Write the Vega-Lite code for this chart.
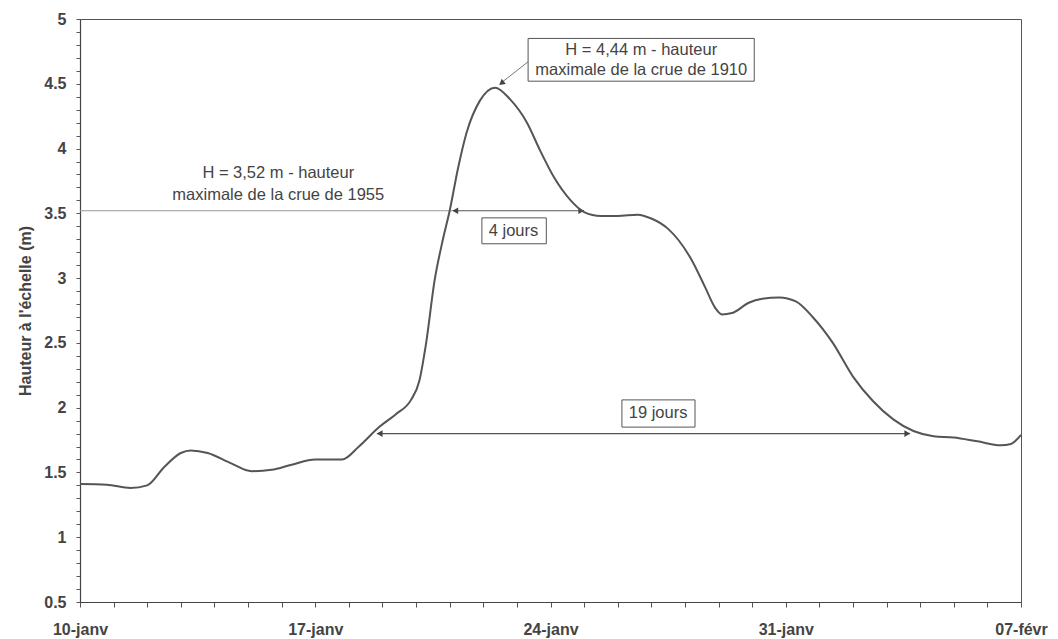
{
  "$schema": "https://vega.github.io/schema/vega-lite/v6.json",
  "autosize": {"type": "none"},
  "padding": {"left": 80, "top": 19, "right": 37, "bottom": 37},
  "width": 941,
  "height": 583,
  "background": "white",
  "config": {
    "view": {"stroke": "#555", "strokeWidth": 1},
    "font": "Liberation Sans"
  },
  "datasets": {
    "curve": [
      {"date": "1910-01-10T00:00:00Z", "h": 1.41},
      {"date": "1910-01-10T19:12:00Z", "h": 1.405},
      {"date": "1910-01-11T12:00:00Z", "h": 1.38},
      {"date": "1910-01-12T00:00:00Z", "h": 1.40},
      {"date": "1910-01-12T12:00:00Z", "h": 1.54},
      {"date": "1910-01-13T00:00:00Z", "h": 1.65},
      {"date": "1910-01-13T07:12:00Z", "h": 1.67},
      {"date": "1910-01-13T19:12:00Z", "h": 1.65},
      {"date": "1910-01-14T12:00:00Z", "h": 1.57},
      {"date": "1910-01-15T02:24:00Z", "h": 1.51},
      {"date": "1910-01-15T16:48:00Z", "h": 1.52},
      {"date": "1910-01-16T07:12:00Z", "h": 1.56},
      {"date": "1910-01-17T00:00:00Z", "h": 1.60},
      {"date": "1910-01-17T19:12:00Z", "h": 1.60},
      {"date": "1910-01-18T07:12:00Z", "h": 1.70},
      {"date": "1910-01-18T21:36:00Z", "h": 1.85},
      {"date": "1910-01-19T09:36:00Z", "h": 1.95},
      {"date": "1910-01-19T20:24:00Z", "h": 2.06},
      {"date": "1910-01-20T02:24:00Z", "h": 2.21},
      {"date": "1910-01-20T07:12:00Z", "h": 2.50},
      {"date": "1910-01-20T13:12:00Z", "h": 2.98},
      {"date": "1910-01-20T19:12:00Z", "h": 3.30},
      {"date": "1910-01-21T00:00:00Z", "h": 3.52},
      {"date": "1910-01-21T06:00:00Z", "h": 3.85},
      {"date": "1910-01-21T12:00:00Z", "h": 4.12},
      {"date": "1910-01-21T21:36:00Z", "h": 4.37},
      {"date": "1910-01-22T08:24:00Z", "h": 4.47},
      {"date": "1910-01-22T19:12:00Z", "h": 4.38},
      {"date": "1910-01-23T07:12:00Z", "h": 4.20},
      {"date": "1910-01-23T16:48:00Z", "h": 3.98},
      {"date": "1910-01-24T02:24:00Z", "h": 3.78},
      {"date": "1910-01-24T14:24:00Z", "h": 3.60},
      {"date": "1910-01-25T00:00:00Z", "h": 3.51},
      {"date": "1910-01-25T12:00:00Z", "h": 3.48},
      {"date": "1910-01-26T00:00:00Z", "h": 3.48},
      {"date": "1910-01-26T14:24:00Z", "h": 3.49},
      {"date": "1910-01-27T00:00:00Z", "h": 3.46},
      {"date": "1910-01-27T12:00:00Z", "h": 3.38},
      {"date": "1910-01-28T04:48:00Z", "h": 3.14},
      {"date": "1910-01-28T14:24:00Z", "h": 2.93},
      {"date": "1910-01-28T21:36:00Z", "h": 2.77},
      {"date": "1910-01-29T02:24:00Z", "h": 2.72},
      {"date": "1910-01-29T09:36:00Z", "h": 2.73},
      {"date": "1910-01-29T21:36:00Z", "h": 2.81},
      {"date": "1910-01-30T07:12:00Z", "h": 2.84},
      {"date": "1910-01-30T19:12:00Z", "h": 2.85},
      {"date": "1910-01-31T07:12:00Z", "h": 2.82},
      {"date": "1910-01-31T19:12:00Z", "h": 2.70},
      {"date": "1910-02-01T09:36:00Z", "h": 2.50},
      {"date": "1910-02-02T00:00:00Z", "h": 2.24},
      {"date": "1910-02-02T14:24:00Z", "h": 2.05},
      {"date": "1910-02-03T04:48:00Z", "h": 1.91},
      {"date": "1910-02-03T19:12:00Z", "h": 1.82},
      {"date": "1910-02-04T09:36:00Z", "h": 1.78},
      {"date": "1910-02-05T00:00:00Z", "h": 1.77},
      {"date": "1910-02-05T16:48:00Z", "h": 1.74},
      {"date": "1910-02-06T09:36:00Z", "h": 1.71},
      {"date": "1910-02-06T16:48:00Z", "h": 1.72},
      {"date": "1910-02-07T00:00:00Z", "h": 1.79}
    ],
    "ref1955": [
      {"date": "1910-01-10T00:00:00Z", "date2": "1910-01-21T02:24:00Z", "h": 3.52}
    ],
    "arrows": [
      {"date": "1910-01-21T02:24:00Z", "date2": "1910-01-25T00:00:00Z", "h": 3.52},
      {"date": "1910-01-18T20:00:00Z", "date2": "1910-02-03T16:48:00Z", "h": 1.80}
    ],
    "headsLeft": [
      {"date": "1910-01-21T04:00:00Z", "h": 3.52},
      {"date": "1910-01-18T22:00:00Z", "h": 1.80}
    ],
    "headsRight": [
      {"date": "1910-01-24T22:00:00Z", "h": 3.52},
      {"date": "1910-02-03T14:48:00Z", "h": 1.80}
    ],
    "leader": [
      {"date": "1910-01-22T12:00:00Z", "h": 4.50, "date2": "1910-01-23T08:00:00Z", "h2": 4.67}
    ],
    "peakHead": [
      {"date": "1910-01-22T13:00:00Z", "h": 4.505}
    ],
    "boxes": [
      {"date": "1910-01-23T08:00:00Z", "date2": "1910-01-30T01:30:00Z", "h": 4.52, "h2": 4.85},
      {"date": "1910-01-21T23:00:00Z", "date2": "1910-01-23T21:00:00Z", "h": 3.265, "h2": 3.465},
      {"date": "1910-01-26T03:00:00Z", "date2": "1910-01-28T07:12:00Z", "h": 1.85, "h2": 2.06}
    ],
    "texts": [
      {"date": "1910-01-15T21:36:00Z", "h": 3.81, "label": "H = 3,52 m - hauteur"},
      {"date": "1910-01-15T21:36:00Z", "h": 3.64, "label": "maximale de la crue de 1955"},
      {"date": "1910-01-26T16:48:00Z", "h": 4.76, "label": "H = 4,44 m - hauteur"},
      {"date": "1910-01-26T16:48:00Z", "h": 4.61, "label": "maximale de la crue de 1910"},
      {"date": "1910-01-22T21:36:00Z", "h": 3.36, "label": "4 jours"},
      {"date": "1910-01-27T04:48:00Z", "h": 1.955, "label": "19 jours"}
    ]
  },
  "encoding": {
    "x": {
      "field": "date",
      "type": "temporal",
      "scale": {
        "type": "utc",
        "domain": [
          {"year": 1910, "month": 1, "date": 10, "utc": true},
          {"year": 1910, "month": 2, "date": 7, "utc": true}
        ]
      },
      "axis": {
        "title": null,
        "grid": false,
        "values": [
          {"year": 1910, "month": 1, "date": 10, "utc": true},
          {"year": 1910, "month": 1, "date": 11, "utc": true},
          {"year": 1910, "month": 1, "date": 12, "utc": true},
          {"year": 1910, "month": 1, "date": 13, "utc": true},
          {"year": 1910, "month": 1, "date": 14, "utc": true},
          {"year": 1910, "month": 1, "date": 15, "utc": true},
          {"year": 1910, "month": 1, "date": 16, "utc": true},
          {"year": 1910, "month": 1, "date": 17, "utc": true},
          {"year": 1910, "month": 1, "date": 18, "utc": true},
          {"year": 1910, "month": 1, "date": 19, "utc": true},
          {"year": 1910, "month": 1, "date": 20, "utc": true},
          {"year": 1910, "month": 1, "date": 21, "utc": true},
          {"year": 1910, "month": 1, "date": 22, "utc": true},
          {"year": 1910, "month": 1, "date": 23, "utc": true},
          {"year": 1910, "month": 1, "date": 24, "utc": true},
          {"year": 1910, "month": 1, "date": 25, "utc": true},
          {"year": 1910, "month": 1, "date": 26, "utc": true},
          {"year": 1910, "month": 1, "date": 27, "utc": true},
          {"year": 1910, "month": 1, "date": 28, "utc": true},
          {"year": 1910, "month": 1, "date": 29, "utc": true},
          {"year": 1910, "month": 1, "date": 30, "utc": true},
          {"year": 1910, "month": 1, "date": 31, "utc": true},
          {"year": 1910, "month": 2, "date": 1, "utc": true},
          {"year": 1910, "month": 2, "date": 2, "utc": true},
          {"year": 1910, "month": 2, "date": 3, "utc": true},
          {"year": 1910, "month": 2, "date": 4, "utc": true},
          {"year": 1910, "month": 2, "date": 5, "utc": true},
          {"year": 1910, "month": 2, "date": 6, "utc": true},
          {"year": 1910, "month": 2, "date": 7, "utc": true}
        ],
        "labelExpr": "(utcmonth(datum.value) * 31 + utcdate(datum.value) - 10) % 7 == 0 ? utcFormat(datum.value, '%d') + '-' + (utcmonth(datum.value) == 0 ? 'janv' : 'févr') : ''",
        "labelOverlap": false,
        "labelFlush": false,
        "labelBound": false,
        "labelFont": "Liberation Sans",
        "labelFontSize": 16,
        "labelFontWeight": "bold",
        "labelColor": "#444",
        "labelPadding": 14,
        "tickSize": 5,
        "tickColor": "#555",
        "domainColor": "#444",
        "domainWidth": 1.2
      }
    },
    "y": {
      "field": "h",
      "type": "quantitative",
      "scale": {"domain": [0.5, 5], "nice": false, "zero": false},
      "axis": {
        "title": "Hauteur à l'échelle (m)",
        "titleFont": "Liberation Sans",
        "titleFontSize": 16,
        "titleFontWeight": "bold",
        "titleColor": "#444",
        "titlePadding": 10,
        "grid": false,
        "values": [0.5, 0.6, 0.7, 0.8, 0.9, 1.0, 1.1, 1.2, 1.3, 1.4, 1.5, 1.6, 1.7, 1.8, 1.9, 2.0, 2.1, 2.2, 2.3, 2.4, 2.5, 2.6, 2.7, 2.8, 2.9, 3.0, 3.1, 3.2, 3.3, 3.4, 3.5, 3.6, 3.7, 3.8, 3.9, 4.0, 4.1, 4.2, 4.3, 4.4, 4.5, 4.6, 4.7, 4.8, 4.9, 5.0],
        "labelExpr": "abs(datum.value * 2 - round(datum.value * 2)) < 0.001 ? format(datum.value, '~g') : ''",
        "labelOverlap": false,
        "labelFlush": false,
        "labelBound": false,
        "labelFont": "Liberation Sans",
        "labelFontSize": 16,
        "labelFontWeight": "bold",
        "labelColor": "#444",
        "labelPadding": 10,
        "tickSize": 4,
        "tickColor": "#555",
        "domainColor": "#444",
        "domainWidth": 1.2
      }
    }
  },
  "layer": [
    {
      "data": {"name": "ref1955"},
      "mark": {"type": "rule", "color": "#999", "strokeWidth": 1},
      "encoding": {"x2": {"field": "date2"}}
    },
    {
      "data": {"name": "arrows"},
      "mark": {"type": "rule", "color": "#555", "strokeWidth": 1.2},
      "encoding": {"x2": {"field": "date2"}}
    },
    {
      "data": {"name": "headsLeft"},
      "mark": {"type": "point", "shape": "triangle-left", "filled": true, "color": "#444", "size": 45, "opacity": 1},
      "encoding": {}
    },
    {
      "data": {"name": "headsRight"},
      "mark": {"type": "point", "shape": "triangle-right", "filled": true, "color": "#444", "size": 45, "opacity": 1},
      "encoding": {}
    },
    {
      "data": {"name": "leader"},
      "mark": {"type": "rule", "color": "#777", "strokeWidth": 1},
      "encoding": {"x2": {"field": "date2"}, "y2": {"field": "h2"}}
    },
    {
      "data": {"name": "peakHead"},
      "mark": {"type": "point", "shape": "triangle-up", "angle": 232, "filled": true, "color": "#444", "size": 45, "opacity": 1},
      "encoding": {}
    },
    {
      "data": {"name": "curve"},
      "mark": {"type": "line", "color": "#555", "strokeWidth": 2, "interpolate": "monotone"},
      "encoding": {}
    },
    {
      "data": {"name": "boxes"},
      "mark": {"type": "rect", "fill": "white", "stroke": "#555", "strokeWidth": 1},
      "encoding": {"x2": {"field": "date2"}, "y2": {"field": "h2"}}
    },
    {
      "data": {"name": "texts"},
      "mark": {"type": "text", "font": "Liberation Sans", "fontSize": 16.5, "color": "#444", "align": "center", "baseline": "middle"},
      "encoding": {"text": {"field": "label"}}
    }
  ]
}
